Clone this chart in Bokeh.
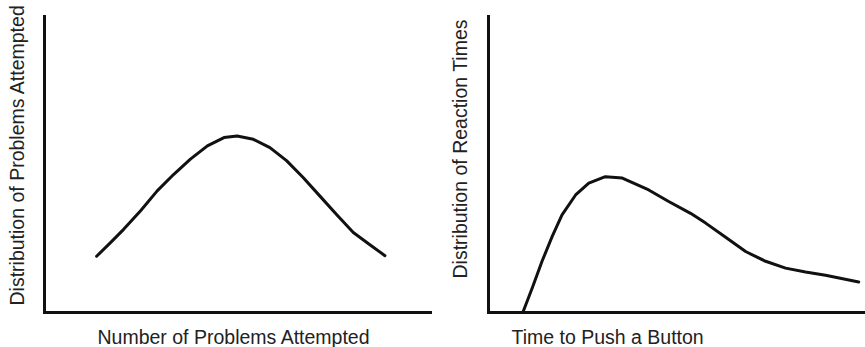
from bokeh.plotting import figure
from bokeh.layouts import row
from bokeh.models import Range1d, FixedTicker, Title
from bokeh.embed import file_html
from bokeh.resources import INLINE

# ---- data ----
left_x = [1.35, 1.71, 2.05, 2.49, 2.92, 3.35, 3.78, 4.22, 4.65, 4.99,
          5.41, 5.84, 6.27, 6.70, 7.13, 7.56, 8.00, 8.43, 8.82]
left_y = [0.190, 0.236, 0.281, 0.344, 0.411, 0.467, 0.518, 0.563, 0.591, 0.596,
          0.585, 0.557, 0.513, 0.456, 0.394, 0.332, 0.270, 0.229, 0.192]

right_x = [0.91, 1.16, 1.42, 1.69, 1.95, 2.31, 2.66, 3.10, 3.55, 4.25,
           4.78, 5.36, 5.76, 6.29, 6.82, 7.35, 7.88, 8.41, 8.94, 9.82]
right_y = [0.000, 0.083, 0.173, 0.257, 0.330, 0.397, 0.437, 0.459, 0.454, 0.414,
           0.375, 0.335, 0.302, 0.254, 0.206, 0.173, 0.150, 0.137, 0.126, 0.103]

left_xlabel = "Number of Problems Attempted"
left_ylabel = "Distribution of Problems Attempted"
right_xlabel = "Time to Push a Button"
right_ylabel = "Distribution of Reaction Times"

FONT = "Liberation Sans"
FSIZE = "19.5px"
TXT = "#222222"
INK = "#111111"


def panel(width, border_left, border_right, xs, ys, xlabel, ylabel,
          xoff, yoff, ygap, xgap):
    p = figure(width=width, height=347, x_range=Range1d(0, 10), y_range=Range1d(0, 1),
               output_backend="svg", toolbar_location=None,
               min_border_left=border_left, min_border_right=border_right,
               min_border_top=16, min_border_bottom=34)
    p.outline_line_color = None
    p.grid.visible = False
    for ax, gap in ((p.xaxis[0], xgap), (p.yaxis[0], ygap)):
        ax.ticker = FixedTicker(ticks=[])
        ax.major_tick_out = 0
        ax.major_tick_in = 0
        ax.minor_tick_out = 0
        ax.minor_tick_in = 0
        ax.major_label_standoff = 0
        ax.axis_line_width = 3
        ax.axis_line_color = INK
        ax.axis_line_cap = "square"
        # invisible spacer label pushes the real label (a Title) outward
        ax.axis_label = " "
        ax.axis_label_text_font_size = "1px"
        ax.axis_label_standoff = gap
    p.line(xs, ys, line_width=3, line_color=INK, line_cap="round", line_join="round")
    p.add_layout(Title(text=xlabel, align="left", offset=xoff, standoff=0,
                       text_font=FONT, text_font_size=FSIZE, text_font_style="normal",
                       text_color=TXT), "below")
    p.add_layout(Title(text=ylabel, align="left", offset=yoff, standoff=0,
                       text_font=FONT, text_font_size=FSIZE, text_font_style="normal",
                       text_color=TXT), "left")
    return p


p1 = panel(432, 44, 2, left_x, left_y, left_xlabel, left_ylabel, 53, 7, 13, 7)
p2 = panel(433, 56, 0, right_x, right_y, right_xlabel, right_ylabel, 23, 34, 14, 7)

layout = row(p1, p2)
open("out.html", "w").write(file_html(layout, INLINE))
